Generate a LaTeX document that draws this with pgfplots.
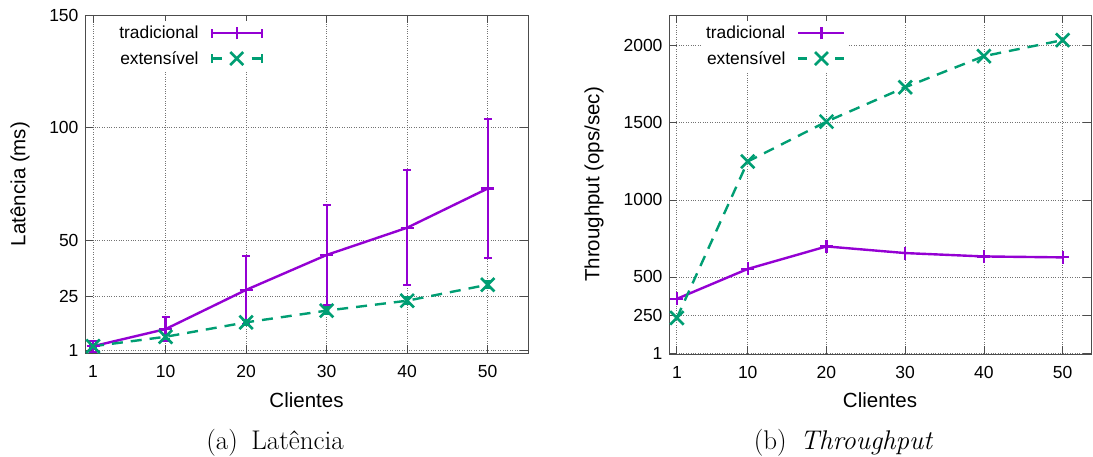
\documentclass[border=0pt]{standalone}
\usepackage{pgfplots}
\pgfplotsset{compat=1.18}
\usepackage{pgfplotstable}
\usepackage{fontspec}
\newfontfamily\arial{Liberation Sans}
\definecolor{gpviolet}{HTML}{9400D3}
\definecolor{gpgreen}{HTML}{009E73}

% latencia (ms): x, media, desvio
\pgfplotstableread{
x y err
1 3 2.5
10 10.6 5.2
20 28 15
30 43.5 22.3
40 55.6 25.5
50 73 31
}\lattrad
\pgfplotstableread{
x y err
1 3 1
10 7.2 1
20 13.6 1
30 18.8 1.5
40 23.2 1.5
50 30.3 1.5
}\latext
% throughput (ops/sec)
\pgfplotstableread{
x y
1 358
10 552
20 698
30 655
40 633
50 627
}\thrtrad
\pgfplotstableread{
x y
1 234
10 1249
20 1508
30 1731
40 1933
50 2037
}\thrext

\pgfplotsset{
  gp/.style={
    scale only axis,
    anchor=south west,
    xmin=0,
    xtick={1,10,20,30,40,50},
    xticklabels={1,10,20,30,40,50},
    tick pos=both,
    tick align=inside,
    major tick length=8pt,
    every tick/.style={black!70, line width=0.8pt},
    axis line style={black!70, line width=0.9pt},
    grid=major,
    major grid style={black!55, dotted, line width=0.8pt},
    /pgf/number format/assume math mode=true,
    ticklabel style={font=\arial\fontsize{17.5}{20}\selectfont},
    xticklabel style={yshift=-9pt},
    yticklabel style={xshift=-3pt},
    label style={font=\arial\fontsize{20.5}{24}\selectfont},
    xlabel={Clientes},
    legend plot pos=right,
    legend cell align=right,
    legend style={draw=none, fill=white, inner sep=3pt,
      row sep=7pt, column sep=10pt, anchor=north east,
      font=\arial\fontsize{17.4}{20}\selectfont},
  },
  trad/.style={gpviolet, line width=2.4pt, mark=+, mark size=6.5pt,
    mark options={solid, line width=2.2pt}},
  ext/.style={gpgreen, line width=2.4pt, dash pattern=on 11pt off 8pt,
    mark=x, mark size=9.5pt, mark options={solid, line width=2.6pt}},
  ebar/.style={error bars/.cd, y dir=both, y explicit, error mark=|,
    error bar style={line width=2.2pt, solid},
    error mark options={line width=2.2pt, mark size=4pt, solid},
    /pgfplots/.cd},
}

\begin{document}
\begin{tikzpicture}
\path[use as bounding box] (0pt,0pt) rectangle (1093pt,457pt);

\begin{axis}[gp,
  at={(85pt,104pt)}, width=443pt, height=338pt,
  xmax=55, ymin=0, ymax=150,
  ytick={1,25,50,100,150},
  yticklabels={1,25,50,100,150},
  ylabel={Latência (ms)},
  xlabel style={at={(axis description cs:0.5,-0.139)}, anchor=center},
  ylabel style={at={(axis description cs:-0.1467,0.5)}, anchor=center},
  legend style={at={(axis description cs:0.4086,0.982)}},
]
\addplot[trad,
  legend image code/.code={
    \draw[gpviolet, solid, line width=2.2pt] (0pt,0pt) -- (50pt,0pt)
      (0pt,-4.5pt) -- (0pt,4.5pt) (50pt,-4.5pt) -- (50pt,4.5pt)
      (25pt,-6pt) -- (25pt,6pt);}, ebar]
  table[x=x, y=y, y error=err] {\lattrad};
\addlegendentry{tradicional}
\addplot[ext,
  legend image code/.code={
    \draw[gpgreen, solid, line width=2.2pt] (0pt,0pt) -- (10pt,0pt)
      (0pt,-4.5pt) -- (0pt,4.5pt) (40pt,0pt) -- (50pt,0pt)
      (50pt,-4.5pt) -- (50pt,4.5pt);
    \draw[gpgreen, solid, line width=2.6pt] (18.5pt,-6.5pt) -- (31.5pt,6.5pt)
      (18.5pt,6.5pt) -- (31.5pt,-6.5pt);}, ebar]
  table[x=x, y=y, y error=err] {\latext};
\addlegendentry{extensível}
\end{axis}

\begin{axis}[gp,
  at={(669pt,103pt)}, width=422pt, height=339pt,
  xmax=53.6, ymin=0, ymax=2200,
  ytick={1,250,500,1000,1500,2000},
  yticklabels={1,250,500,1000,1500,2000},
  ylabel={Throughput (ops/sec)},
  xlabel style={at={(axis description cs:0.5,-0.1357)}, anchor=center},
  ylabel style={at={(axis description cs:-0.1777,0.5)}, anchor=center},
  legend style={at={(axis description cs:0.426,0.982)}},
]
\addplot[trad,
  legend image code/.code={
    \draw[gpviolet, solid, line width=2.2pt] (0pt,0pt) -- (46pt,0pt)
      (23pt,-6pt) -- (23pt,6pt);}]
  table[x=x, y=y] {\thrtrad};
\addlegendentry{tradicional}
\addplot[ext,
  legend image code/.code={
    \draw[gpgreen, solid, line width=2.2pt] (0pt,0pt) -- (9pt,0pt)
      (37pt,0pt) -- (46pt,0pt);
    \draw[gpgreen, solid, line width=2.6pt] (16.5pt,-6.5pt) -- (29.5pt,6.5pt)
      (16.5pt,6.5pt) -- (29.5pt,-6.5pt);}]
  table[x=x, y=y] {\thrext};
\addlegendentry{extensível}
\end{axis}

\node[font=\fontsize{27}{32}\selectfont, anchor=base] at (275pt,7pt)
  {(a)\hspace{0.5em}Latência};
\node[font=\fontsize{27}{32}\selectfont, anchor=base] at (843.5pt,7pt)
  {(b)\hspace{0.5em}\textit{Throughput}};
\end{tikzpicture}
\end{document}
